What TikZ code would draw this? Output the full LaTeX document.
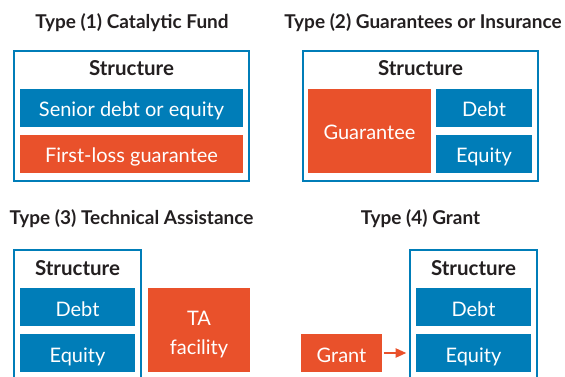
\documentclass[tikz,border=0pt]{standalone}
\usepackage{fontspec}
\setmainfont{Lato}
\usetikzlibrary{arrows.meta}
\definecolor{adbblue}{RGB}{0,125,184}
\definecolor{adborange}{RGB}{233,81,43}
\definecolor{adbtext}{RGB}{35,31,32}

\tikzset{
  title/.style={text=adbtext, font=\fontsize{19}{21}\selectfont\bfseries},
  head/.style={text=adbtext, font=\fontsize{20.5}{22}\selectfont\bfseries},
  frame/.style={draw=adbblue, line width=2pt, inner sep=0pt},
  bar/.style={inner sep=0pt, text=white, align=center, text height=18pt, text depth=0pt, font=\fontsize{20}{29}\selectfont},
  bluebar/.style={bar, fill=adbblue},
  orangebar/.style={bar, fill=adborange},
}

\begin{document}
\begin{tikzpicture}[x=1pt,y=-1pt]
\useasboundingbox (0,0) rectangle (565,377);
\clip (0,0) rectangle (565,377);
%Type 1
\node[title] (t1) at (132,23) {Type (1) Catalytic Fund};
\node[frame, minimum width=235pt, minimum height=130pt] (box1) at (131.5,116) {};
\node[head] (s1) at (131.5,68) {Structure};
\node[bluebar, minimum width=223pt, minimum height=38pt] (senior) at (131.5,108) {Senior debt or equity};
\node[orangebar, minimum width=223pt, minimum height=38pt] (firstloss) at (131.5,154) {First-loss guarantee};
%Type 2
\node[title] (t2) at (423,23) {Type (2) Guarantees or Insurance};
\node[frame, minimum width=235pt, minimum height=130pt] (box2) at (420.5,116) {};
\node[head] (s2) at (420.5,68) {Structure};
\node[orangebar, minimum width=123pt, minimum height=84pt] (guar) at (369.5,131) {Guarantee};
\node[bluebar, minimum width=96pt, minimum height=38pt] (debt2) at (484,108) {Debt};
\node[bluebar, minimum width=96pt, minimum height=38pt] (equity2) at (484,154) {Equity};
%Type 3
\node[title] (t3) at (131.5,219) {Type (3) Technical Assistance};
\node[frame, minimum width=127pt, minimum height=140pt] (box3) at (77.5,320) {};
\node[head] (s3) at (77.5,268) {Structure};
\node[bluebar, minimum width=115pt, minimum height=38pt] (debt3) at (77.5,307) {Debt};
\node[bluebar, minimum width=115pt, minimum height=38pt] (equity3) at (77.5,353) {Equity};
\node[orangebar, minimum width=102pt, minimum height=84pt, text height=48pt, text depth=0pt] (ta) at (199,330) {TA\\facility};
%Type 4
\node[title] (t4) at (420.5,219) {Type (4) Grant};
\node[frame, minimum width=127pt, minimum height=140pt] (box4) at (473.5,320) {};
\node[head] (s4) at (473.5,268) {Structure};
\node[bluebar, minimum width=115pt, minimum height=38pt] (debt4) at (473.5,307) {Debt};
\node[bluebar, minimum width=115pt, minimum height=38pt] (equity4) at (473.5,353) {Equity};
\node[orangebar, minimum width=81pt, minimum height=38pt] (grant) at (341.5,353) {Grant};
\coordinate (g4) at (box4.west |- grant.east);
\draw[adborange, line width=2.5pt, -{Triangle[length=11pt,width=9pt]}, shorten <=1.5pt, shorten >=2.5pt] (grant.east) -- (g4);
\end{tikzpicture}
\end{document}
